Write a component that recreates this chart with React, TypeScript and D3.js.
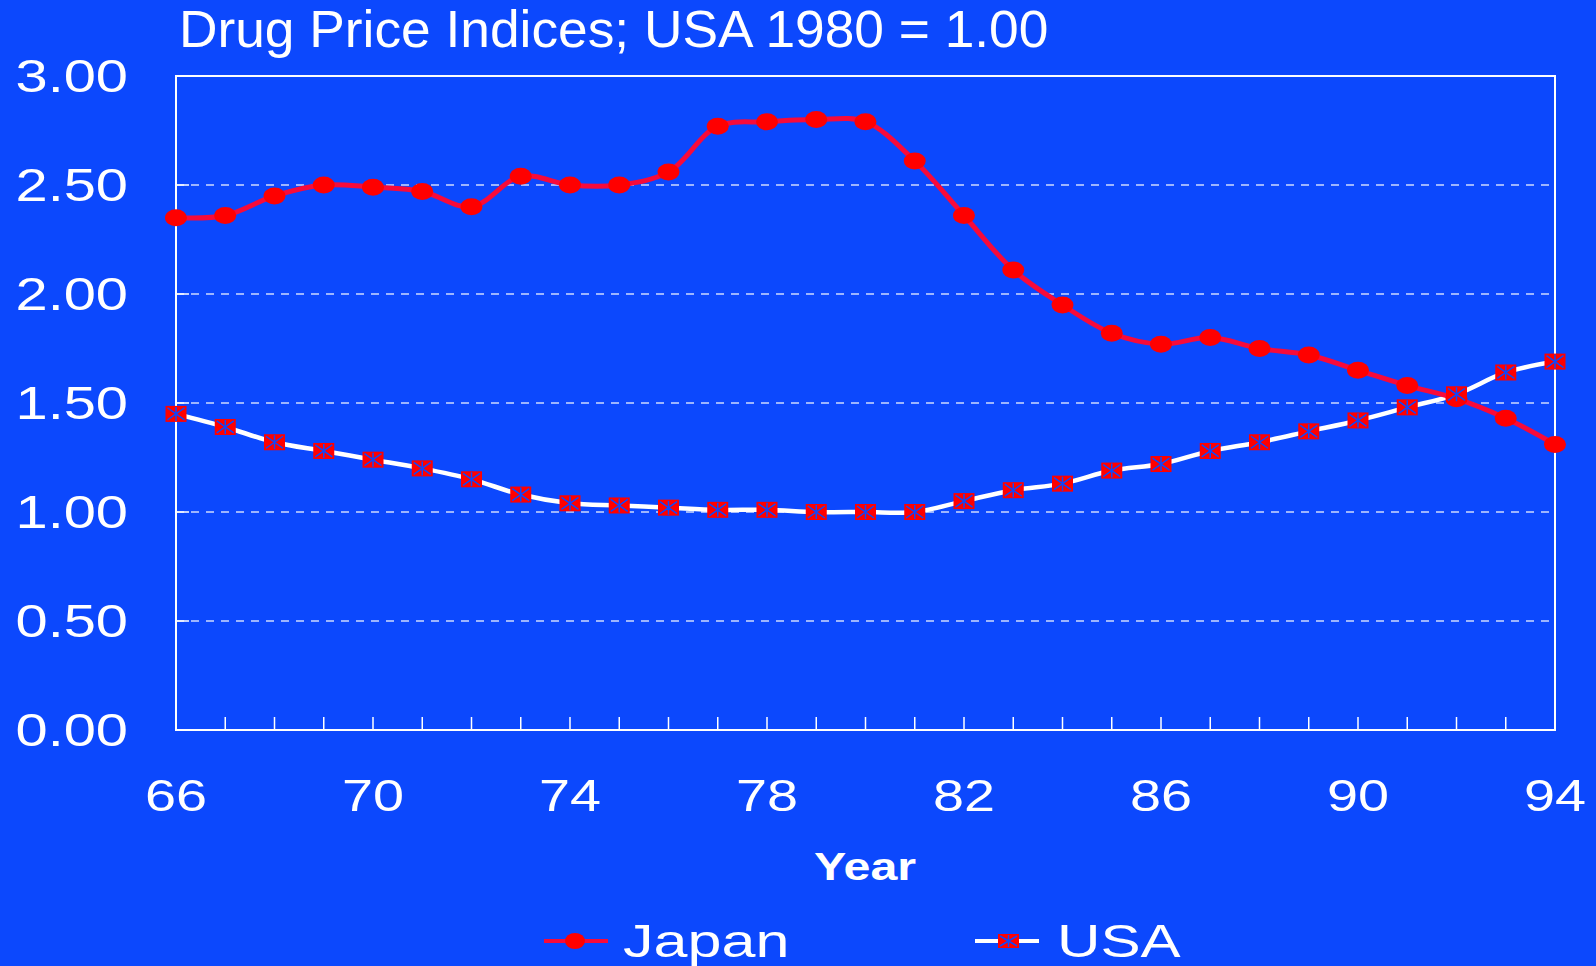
import React from 'react';
import * as d3 from 'd3';

const years: number[] = [
  66, 67, 68, 69, 70, 71, 72, 73, 74, 75, 76, 77, 78, 79, 80,
  81, 82, 83, 84, 85, 86, 87, 88, 89, 90, 91, 92, 93, 94,
];
const japan: number[] = [
  2.35, 2.36, 2.45, 2.5, 2.49, 2.47, 2.4, 2.54, 2.5, 2.5, 2.56, 2.77, 2.79, 2.8, 2.79,
  2.61, 2.36, 2.11, 1.95, 1.82, 1.77, 1.8, 1.75, 1.72, 1.65, 1.58, 1.52, 1.43, 1.31,
];
const usa: number[] = [
  1.45, 1.39, 1.32, 1.28, 1.24, 1.2, 1.15, 1.08, 1.04, 1.03, 1.02, 1.01, 1.01, 1.0, 1.0,
  1.0, 1.05, 1.1, 1.13, 1.19, 1.22, 1.28, 1.32, 1.37, 1.42, 1.48, 1.54, 1.64, 1.69,
];
const xTickLabels: number[] = [66, 70, 74, 78, 82, 86, 90, 94];
const yTickValues: number[] = [0, 0.5, 1, 1.5, 2, 2.5, 3];

const W = 1596;
const H = 966;
const margin = { top: 76, right: 41, bottom: 236, left: 176 };
const BG = '#0C48FD';
const RED = '#FF0000';
const JAPAN_LINE = '#F80A3A';
const FONT = '"Liberation Sans", Arial, sans-serif';

// text drawn a bit wider than the font, like the original slide
const WideText: React.FC<{
  x: number;
  y: number;
  size: number;
  anchor?: string;
  bold?: boolean;
  sx?: number;
  children: React.ReactNode;
}> = ({ x, y, size, anchor = 'start', bold = false, sx = 1.23, children }) => (
  <text
    transform={`translate(${x},${y}) scale(${sx},1)`}
    fontSize={size}
    fontFamily={FONT}
    fontWeight={bold ? 'bold' : 'normal'}
    textAnchor={anchor}
    fill="#fff"
  >
    {children}
  </text>
);

const Dot: React.FC<{ cx: number; cy: number; rx?: number; ry?: number }> = ({
  cx,
  cy,
  rx = 11,
  ry = 8.5,
}) => <ellipse cx={cx} cy={cy} rx={rx} ry={ry} fill={RED} />;

const StarBox: React.FC<{ cx: number; cy: number; w?: number; h?: number }> = ({
  cx,
  cy,
  w = 10.5,
  h = 8,
}) => (
  <g>
    <rect x={cx - w} y={cy - h} width={w * 2} height={h * 2} fill={RED} />
    <path
      d={`M${cx - w + 2},${cy - h + 2}L${cx + w - 2},${cy + h - 2}M${cx - w + 2},${cy + h - 2}L${cx + w - 2},${cy - h + 2}M${cx},${cy - h + 1}L${cx},${cy + h - 1}`}
      stroke={BG}
      strokeWidth={1.5}
    />
  </g>
);

const App: React.FC = () => {
  const x0 = margin.left;
  const x1 = W - margin.right;
  const y0 = H - margin.bottom;
  const y1 = margin.top;

  const x = d3.scaleLinear().domain([66, 94]).range([x0, x1]);
  const y = d3.scaleLinear().domain([0, 3]).range([y0, y1]);

  const line = d3
    .line<number>()
    .x((_, i) => x(years[i]))
    .y((d) => y(d))
    .curve(d3.curveCatmullRom.alpha(0.5));

  const fmt = d3.format('.2f');

  return (
    <svg
      width={W}
      height={H}
      style={{ position: 'absolute', left: 0, top: 0, display: 'block' }}
    >
      <rect width={W} height={H} fill={BG} />

      <WideText x={179} y={47} size={52} sx={1.025}>
        Drug Price Indices; USA 1980 = 1.00
      </WideText>

      {/* grid */}
      {yTickValues
        .filter((v) => v > 0 && v < 3)
        .map((v) => (
          <g key={`g${v}`}>
            <line
              x1={x0}
              x2={x1}
              y1={y(v)}
              y2={y(v)}
              stroke="#fff"
              strokeOpacity={0.8}
              strokeWidth={1.3}
              strokeDasharray="8,7"
            />
            <line x1={x0} x2={x0 + 13} y1={y(v)} y2={y(v)} stroke="#fff" strokeWidth={1.5} />
          </g>
        ))}

      {/* year ticks */}
      {years.map((yr) => (
        <line key={`t${yr}`} x1={x(yr)} x2={x(yr)} y1={y0} y2={y0 - 13} stroke="#fff" strokeWidth={1.5} />
      ))}

      {/* frame */}
      <rect x={x0} y={y1} width={x1 - x0} height={y0 - y1} fill="none" stroke="#fff" strokeWidth={2} />

      {/* y labels */}
      {yTickValues.map((v) => (
        <WideText key={`y${v}`} x={128} y={y(v) + 16} size={47} anchor="end">
          {fmt(v)}
        </WideText>
      ))}

      {/* x labels */}
      {xTickLabels.map((v) => (
        <WideText key={`x${v}`} x={x(v)} y={811} size={45} anchor="middle" sx={1.24}>
          {v}
        </WideText>
      ))}

      <WideText x={865} y={880} size={39} anchor="middle" bold sx={1.24}>
        Year
      </WideText>

      {/* series */}
      <path d={line(usa) || ''} fill="none" stroke="#fff" strokeWidth={4.5} />
      <path d={line(japan) || ''} fill="none" stroke={JAPAN_LINE} strokeWidth={5} />
      {japan.map((v, i) => (
        <Dot key={`j${i}`} cx={x(years[i])} cy={y(v)} />
      ))}
      {usa.map((v, i) => (
        <StarBox key={`u${i}`} cx={x(years[i])} cy={y(v)} />
      ))}

      {/* legend */}
      <line x1={544} x2={608} y1={941} y2={941} stroke={JAPAN_LINE} strokeWidth={4} />
      <Dot cx={575} cy={941} rx={10} ry={8} />
      <WideText x={623} y={957} size={47} sx={1.3}>
        Japan
      </WideText>
      <line x1={975} x2={1039} y1={941} y2={941} stroke="#fff" strokeWidth={4} />
      <StarBox cx={1008.5} cy={941} w={10.5} h={7} />
      <WideText x={1057} y={957} size={47} sx={1.28}>
        USA
      </WideText>
    </svg>
  );
};

export default App;
